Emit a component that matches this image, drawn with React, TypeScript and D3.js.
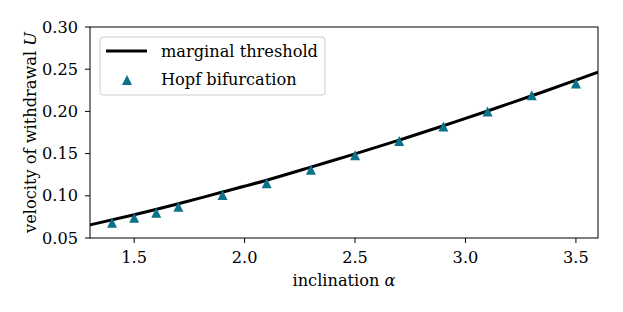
import React from 'react';
import { scaleLinear, line, curveNatural } from 'd3';

// marginal threshold curve
const curveAlpha = [1.3, 1.5, 1.7, 1.9, 2.1, 2.3, 2.5, 2.7, 2.9, 3.1, 3.3, 3.5, 3.6];
const curveU = [0.0655, 0.0775, 0.0905, 0.1045, 0.1185, 0.134, 0.1497, 0.166, 0.183, 0.2005, 0.2185, 0.237, 0.2465];

// Hopf bifurcation points
const hopfAlpha = [1.4, 1.5, 1.6, 1.7, 1.9, 2.1, 2.3, 2.5, 2.7, 2.9, 3.1, 3.3, 3.5];
const hopfU = [0.068, 0.074, 0.080, 0.087, 0.101, 0.115, 0.131, 0.148, 0.165, 0.182, 0.2, 0.219, 0.233];

const xTicks = [1.5, 2.0, 2.5, 3.0, 3.5];
const yTicks = [0.05, 0.1, 0.15, 0.2, 0.25, 0.3];

const W = 623;
const H = 312;
const left = 90;
const right = 598;
const top = 27;
const bottom = 238;
const font = '"DejaVu Serif", serif';
const fs = 16.2;
const teal = '#0b7289';

const tri = (cx: number, cy: number, r: number) =>
    `M${cx},${cy - r}L${cx - r},${cy + r}L${cx + r},${cy + r}Z`;

const App = () => {
    const x = scaleLinear().domain([1.3, 3.6]).range([left, right]);
    const y = scaleLinear().domain([0.05, 0.3]).range([bottom, top]);

    const path = line<number>()
        .x((d, i) => x(curveAlpha[i]))
        .y((d) => y(d))
        .curve(curveNatural)(curveU);

    return (
        <svg width={W} height={H} style={{ position: 'absolute', left: 0, top: 0 }} fontFamily={font} fontSize={fs}>
            <rect width={W} height={H} fill="white" />
            <defs>
                <clipPath id="plot">
                    <rect x={left} y={top} width={right - left} height={bottom - top} />
                </clipPath>
            </defs>

            <g clipPath="url(#plot)">
                <path d={path || ''} fill="none" stroke="black" strokeWidth={3} />
                {hopfAlpha.map((a, i) => (
                    <path key={i} d={tri(x(a), y(hopfU[i]), 5)} fill={teal} />
                ))}
            </g>

            <rect x={left} y={top} width={right - left} height={bottom - top} fill="none" stroke="black" strokeWidth={1} />

            {xTicks.map((t) => (
                <g key={t}>
                    <line x1={x(t)} x2={x(t)} y1={bottom} y2={bottom + 5} stroke="black" />
                    <text x={x(t)} y={263} textAnchor="middle">{t.toFixed(1)}</text>
                </g>
            ))}
            {yTicks.map((t) => (
                <g key={t}>
                    <line x1={left - 5} x2={left} y1={y(t)} y2={y(t)} stroke="black" />
                    <text x={78} y={y(t)} textAnchor="end" dominantBaseline="central">{t.toFixed(2)}</text>
                </g>
            ))}

            <text x={(left + right) / 2} y={286} textAnchor="middle">
                inclination <tspan fontStyle="italic">α</tspan>
            </text>
            <text transform={`translate(36,${(top + bottom) / 2}) rotate(-90)`} textAnchor="middle">
                velocity of withdrawal <tspan fontStyle="italic">U</tspan>
            </text>

            <g>
                <rect x={100} y={37} width={225} height={58} rx={3} fill="white" fillOpacity={0.8} stroke="#cccccc" />
                <line x1={106} x2={147} y1={51} y2={51} stroke="black" strokeWidth={3} />
                <text x={161} y={57}>marginal threshold</text>
                <path d={tri(127, 80, 5)} fill={teal} />
                <text x={161} y={85}>Hopf bifurcation</text>
            </g>
        </svg>
    );
};

export default App;
